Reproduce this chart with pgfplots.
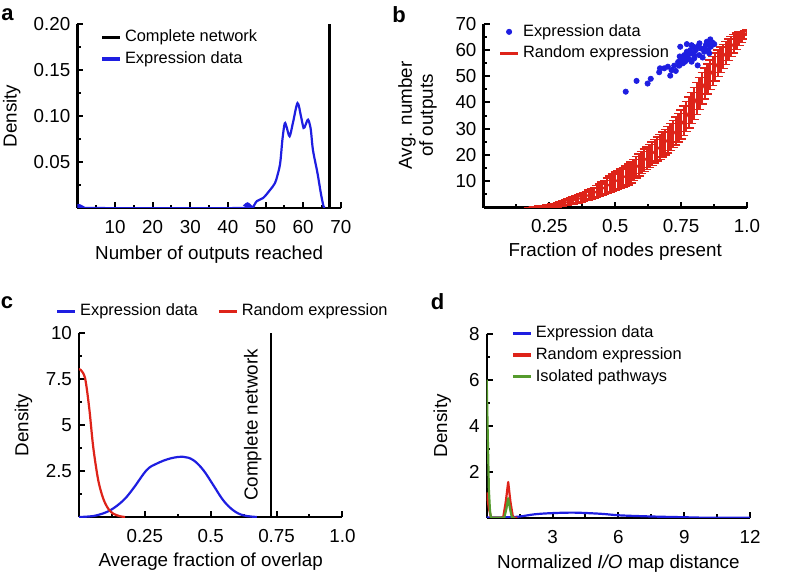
\documentclass[border=0pt]{standalone}
\usepackage{fontspec}
\setmainfont{Liberation Sans}
\usepackage{pgfplots}
\pgfplotsset{compat=1.18}
\definecolor{myblue}{RGB}{30,30,225}
\definecolor{myred}{RGB}{222,35,25}
\definecolor{mygreen}{RGB}{85,155,45}
\newcommand\fs{\fontsize{9.4}{10.5}\selectfont}
\newcommand\lfs{\fontsize{8.2}{9.5}\selectfont}

\pgfplotsset{
  panel/.style={
    scale only axis, width=131.7pt, height=92pt,
    axis lines=left, axis line style={line width=1.2pt,-},
    tick align=inside, major tick length=3pt, minor tick length=1.7pt,
    every tick/.style={line width=1pt, black},
    tick label style={font=\fs}, label style={font=\fs},
    xticklabel style={yshift=-2.6pt},
    legend style={draw=none, fill=none, inner sep=0pt, font=\lfs,
      nodes={inner sep=1.7pt}},
    legend cell align=left,
    anchor=south west,
  },
  lline/.style={legend image code/.code={\draw[##1, line width=1.6pt] (0pt,0pt) -- (9pt,0pt);}},
  mlegend/.style={legend image code/.code={\draw[mark repeat=2,mark phase=2,##1] plot coordinates {(0pt,0pt) (4.5pt,0pt) (9pt,0pt)};}},
}

\begin{document}
\begin{tikzpicture}
\useasboundingbox (0,0) rectangle (394pt,287pt);

% ---------- a ----------
\begin{axis}[panel, at={(38.7pt,183pt)},
  xmin=0, xmax=70, ymin=0, ymax=0.2,
  xtick={10,20,30,40,50,60,70}, xticklabels={10,20,30,40,50,60,70},
  minor xtick={5,15,25,35,45,55,65},
  ytick={0.05,0.1,0.15,0.2}, yticklabels={0.05,0.10,0.15,0.20},
  minor ytick={0.025,0.075,0.125,0.175},
  xlabel={Number of outputs reached}, ylabel={Density},
  xlabel style={at={([yshift=-23.5pt]axis description cs:0.5,0)}, anchor=center},
  ylabel style={at={([xshift=-32.8pt]axis description cs:0,0.5)}, anchor=center},
  legend style={at={([xshift=11.3pt,yshift=-1pt]axis description cs:0,1)}, anchor=north west},
]
\addplot[black, line width=1.2pt, lline] coordinates {(67,0) (67,0.2)};
\addlegendentry{Complete network}
\addplot[myblue, line width=1.1pt, smooth, tension=0.5, lline] coordinates {
(0,0.003) (0.6,0.003) (1.3,0.0015) (2,0) (43.8,0) (44.5,0.003) (45.2,0.005)
(45.9,0.003) (46.6,0.0008) (47.7,0.0075) (49.4,0.011) (51.2,0.0196)
(52.5,0.027) (53.2,0.036) (53.9,0.049) (54.5,0.075) (55.1,0.092) (55.6,0.088)
(56.4,0.078) (57.3,0.093) (58.5,0.114) (59.4,0.100) (60.1,0.087) (60.6,0.090)
(61.3,0.096) (62.0,0.086) (62.6,0.063) (63.8,0.038) (64.7,0.016) (65.4,0.002) (65.8,0)};
\addlegendentry{Expression data}
\end{axis}

% ---------- b ----------
\begin{axis}[panel, at={(241.75pt,183.2pt)},
  xmin=0, xmax=1, ymin=0, ymax=70,
  xtick={0.25,0.5,0.75,1}, xticklabels={0.25,0.5,0.75,1.0},
  minor xtick={0.125,0.375,0.625,0.875},
  ytick={10,20,30,40,50,60,70}, yticklabels={10,20,30,40,50,60,70},
  minor ytick={5,15,25,35,45,55,65},
  xlabel={Fraction of nodes present}, ylabel={Avg. number\\of outputs},
  xlabel style={at={([yshift=-22pt]axis description cs:0.5,0)}, anchor=center},
  ylabel style={at={([xshift=-33pt]axis description cs:0,0.5)}, anchor=center, align=center},
  legend style={at={([xshift=7.3pt,yshift=1.5pt]axis description cs:0,1)}, anchor=north west},
]
\addplot[only marks, mark=*, mark size=1.3pt, myblue, mlegend]
  coordinates {
(0.540,44.1) (0.581,48.2) (0.623,47.2) (0.635,49.0) (0.667,51.5) (0.670,53.0)
(0.686,53.0) (0.700,53.6) (0.709,50.2) (0.714,52.3) (0.724,54.0) (0.730,52.0)
(0.739,55.4) (0.743,54.0) (0.747,61.2) (0.752,56.4) (0.757,54.9) (0.762,58.0)
(0.768,56.1) (0.772,59.3) (0.775,57.4) (0.781,56.4) (0.785,59.9) (0.790,55.5)
(0.794,58.7) (0.797,61.2) (0.800,56.8) (0.806,59.9) (0.813,54.1) (0.815,61.4)
(0.819,58.0) (0.825,60.6) (0.832,57.1) (0.838,59.3) (0.844,61.8) (0.848,63.1)
(0.853,59.9) (0.857,58.7) (0.861,64.0) (0.863,61.2) (0.870,62.7) (0.876,62.2)
(0.772,62.2) (0.790,61.8) (0.760,56.5) (0.745,57.5) (0.765,55.5) (0.820,62.5)
(0.840,60.5) (0.855,62.0) (0.800,58.0) (0.780,58.5)};
\addlegendentry{Expression data}
\addplot[myred, line width=1pt, lline,
  error bars/.cd, y dir=both, y explicit,
  error bar style={line width=1.15pt, myred},
  error mark options={rotate=90, mark size=2.3pt, line width=0.7pt, myred}]
  table[x=x, y=y, y error=e] {
x y e
0.17 0.02 0.05
0.18 0.05 0.1
0.19 0.1 0.2
0.20 0.2 0.25
0.21 0.28 0.3
0.22 0.35 0.35
0.23 0.42 0.4
0.24 0.5 0.45
0.25 0.62 0.5
0.26 0.75 0.6
0.27 0.92 0.7
0.28 1.1 0.8
0.29 1.35 0.9
0.30 1.6 1.0
0.31 1.85 1.05
0.32 2.1 1.1
0.33 2.4 1.2
0.34 2.7 1.3
0.35 3.0 1.4
0.36 3.3 1.5
0.37 3.65 1.6
0.38 4.0 1.7
0.39 4.4 1.8
0.40 4.8 1.9
0.41 5.2 2.0
0.42 5.6 2.1
0.43 6.1 2.25
0.44 6.6 2.4
0.45 7.15 2.55
0.46 7.7 2.7
0.47 8.3 2.9
0.48 8.9 3.1
0.49 9.45 3.3
0.50 10.0 3.5
0.51 10.5 3.6
0.52 11.0 3.7
0.53 11.5 3.8
0.54 12.0 3.9
0.55 12.6 3.95
0.56 13.3 4.0
0.57 14.3 4.05
0.58 15.3 4.1
0.59 16.2 4.15
0.60 17.2 4.2
0.61 18.0 4.25
0.62 18.8 4.3
0.63 19.6 4.35
0.64 20.5 4.4
0.65 21.4 4.5
0.66 22.3 4.6
0.67 23.1 4.7
0.68 24.0 4.8
0.69 24.9 4.9
0.70 25.8 5.0
0.71 26.9 5.1
0.72 28.0 5.2
0.73 29.1 5.3
0.74 30.3 5.4
0.75 31.6 5.5
0.76 33.0 5.6
0.77 34.6 5.75
0.78 36.2 5.9
0.79 37.9 6.0
0.80 39.7 6.1
0.81 41.6 6.1
0.82 43.5 6.1
0.83 45.4 6.0
0.84 47.2 5.9
0.85 48.9 5.75
0.86 50.5 5.6
0.87 52.0 5.45
0.88 53.5 5.3
0.89 54.9 5.1
0.90 56.2 4.9
0.91 57.5 4.65
0.92 58.8 4.4
0.93 60.0 4.1
0.94 61.2 3.8
0.95 62.3 3.45
0.96 63.3 3.1
0.97 64.2 2.6
0.98 65.0 2.1
0.99 65.8 1.6
1.00 66.5 1.1
};
\addlegendentry{Random expression}
\end{axis}

% ---------- c ----------
\begin{axis}[panel, at={(39.5pt,28.5pt)},
  xmin=0, xmax=1, ymin=0, ymax=10,
  xtick={0.25,0.5,0.75,1}, xticklabels={0.25,0.5,0.75,1.0},
  minor xtick={0.125,0.375,0.625,0.875},
  ytick={2.5,5,7.5,10}, yticklabels={2.5,5,7.5,10},
  minor ytick={1.25,3.75,6.25,8.75},
  xlabel={Average fraction of overlap}, ylabel={Density},
  xlabel style={at={([yshift=-22.5pt]axis description cs:0.5,0)}, anchor=center},
  ylabel style={at={([xshift=-27.8pt]axis description cs:0,0.5)}, anchor=center},
  legend columns=2,
  legend style={at={([xshift=6.3pt,yshift=10.85pt]axis description cs:0.5,1)}, anchor=center,
    /tikz/every even column/.append style={column sep=8pt}},
]
\addplot[myblue, line width=1.1pt, smooth, tension=0.6, lline] coordinates {
(0,0) (0.03,0.02) (0.067,0.09) (0.118,0.36) (0.168,0.9) (0.206,1.55) (0.257,2.55)
(0.295,2.9) (0.346,3.18) (0.396,3.27) (0.434,3.09) (0.472,2.55) (0.51,1.73)
(0.548,0.9) (0.586,0.36) (0.624,0.09) (0.675,0)};
\addlegendentry{Expression data}
\addplot[myred, line width=1.1pt, smooth, tension=0.5, lline] coordinates {
(0,8.0) (0.006,8.0) (0.023,7.55) (0.039,5.9) (0.054,3.8) (0.073,2.0) (0.092,1.0)
(0.111,0.45) (0.13,0.18) (0.156,0.04) (0.175,0)};
\addlegendentry{Random expression}
\addplot[black, line width=1.2pt, forget plot] coordinates {(0.729,0) (0.729,10)};
\node[rotate=90, anchor=south, inner sep=0pt, font=\fs] at ([xshift=-4.5pt]axis cs:0.729,5) {Complete network};
\end{axis}

% ---------- d ----------
\begin{axis}[panel, at={(243.35pt,28.15pt)},
  xmin=0, xmax=12, ymin=0, ymax=8,
  xtick={3,6,9,12}, xticklabels={3,6,9,12},
  minor xtick={1.5,4.5,7.5,10.5},
  ytick={2,4,6,8}, yticklabels={2,4,6,8},
  minor ytick={1,3,5,7},
  xlabel={Normalized \textit{I/O} map distance}, ylabel={Density},
  xlabel style={at={([yshift=-23pt]axis description cs:0.5,0)}, anchor=center},
  ylabel style={at={([xshift=-22.2pt]axis description cs:0,0.5)}, anchor=center},
  legend style={at={([xshift=12.1pt,yshift=5.8pt]axis description cs:0,1)}, anchor=north west},
]
\addplot[myblue, line width=1.1pt, smooth, lline] coordinates {
(0,0.01) (1,0.02) (1.5,0.05) (2.2,0.15) (3,0.2) (4,0.22) (5.2,0.17) (6.1,0.1)
(7.6,0.05) (9,0.02) (10,0) (12,0)};
\addlegendentry{Expression data}
\addplot[myred, line width=1.1pt, line join=round, lline] coordinates {
(0,1.1) (0.1,0.4) (0.2,0) (0.75,0) (0.87,0.7) (0.98,1.55) (1.08,0.7) (1.2,0) (1.4,0)};
\addlegendentry{Random expression}
\addplot[mygreen, line width=1.1pt, line join=round, lline] coordinates {
(0,6) (0.05,3.5) (0.1,1.2) (0.15,0.3) (0.2,0) (0.8,0) (0.9,0.4) (0.98,0.85)
(1.06,0.4) (1.15,0) (1.3,0)};
\addlegendentry{Isolated pathways}
\end{axis}

% panel letters
\node[font=\fontsize{11}{13}\selectfont\bfseries, inner sep=0pt] at (3.8pt,279.5pt) {a};
\node[font=\fontsize{11}{13}\selectfont\bfseries, inner sep=0pt] at (199.5pt,279.5pt) {b};
\node[font=\fontsize{11}{13}\selectfont\bfseries, inner sep=0pt] at (3.5pt,135.5pt) {c};
\node[font=\fontsize{11}{13}\selectfont\bfseries, inner sep=0pt] at (218.75pt,136pt) {d};
\end{tikzpicture}
\end{document}
